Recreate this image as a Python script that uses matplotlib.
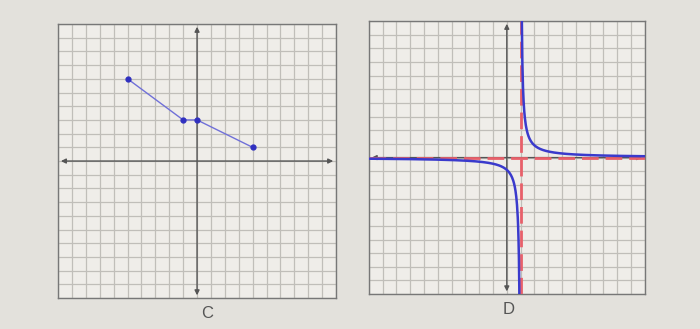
import numpy as np
import matplotlib.pyplot as plt

# graph C: piecewise line through points
cx = [-5, -1, 0, 4]
cy = [6, 3, 3, 1]

# graph D: y = a/(x - h) + k
a_d = 0.9
h_d = 1.0
k_d = 0.0

lims = (-10, 10)
bg = '#e3e1dc'
paper = '#efede9'
gridc = '#c0beb9'
axisc = '#555555'


def cuadricula(ax):
    ax.set_xlim(lims)
    ax.set_ylim(lims)
    ax.set_facecolor(paper)
    ax.set_xticks(np.arange(lims[0], lims[1] + 1, 1))
    ax.set_yticks(np.arange(lims[0], lims[1] + 1, 1))
    ax.grid(True, color=gridc, lw=0.9)
    ax.tick_params(length=0, labelbottom=False, labelleft=False)
    for s in ax.spines.values():
        s.set_color('#777777')
        s.set_linewidth(1.0)
    ax.set_axisbelow(True)
    props = dict(arrowstyle='<|-|>', color=axisc, lw=1.0, mutation_scale=7,
                 shrinkA=0, shrinkB=0)
    ax.annotate('', xy=(9.8, 0), xytext=(-9.8, 0), arrowprops=props)
    ax.annotate('', xy=(0, 9.8), xytext=(0, -9.8), arrowprops=props)


fig = plt.figure(figsize=(7, 3.29), dpi=100, facecolor=bg)

ax1 = fig.add_axes([0.083, 0.094, 0.397, 0.833])
cuadricula(ax1)
ax1.plot(cx, cy, color='#7070d8', lw=1.0, zorder=3)
ax1.plot(cx, cy, 'o', color='#3030c0', ms=3.5, zorder=4)

ax2 = fig.add_axes([0.527, 0.106, 0.394, 0.830])
cuadricula(ax2)
ax2.axhline(k_d, color='#e8606a', lw=2, dashes=(6, 2.5), zorder=3)
ax2.axvline(h_d, color='#e8606a', lw=2, dashes=(6, 2.5), zorder=3)
xs1 = np.linspace(-10, h_d - 0.04, 400)
xs2 = np.linspace(h_d + 0.04, 10, 400)
ax2.plot(xs1, a_d / (xs1 - h_d) + k_d, color='#3a3acc', lw=1.8, zorder=4)
ax2.plot(xs2, a_d / (xs2 - h_d) + k_d, color='#3a3acc', lw=1.8, zorder=4)

fig.text(207 / 700, 1 - 314 / 329, 'C', ha='center', va='center',
         fontsize=12, color='#555555', family='Liberation Sans')
fig.text(509 / 700, 1 - 309 / 329, 'D', ha='center', va='center',
         fontsize=12, color='#555555', family='Liberation Sans')

fig.savefig('out.png', dpi=100, facecolor=bg)
